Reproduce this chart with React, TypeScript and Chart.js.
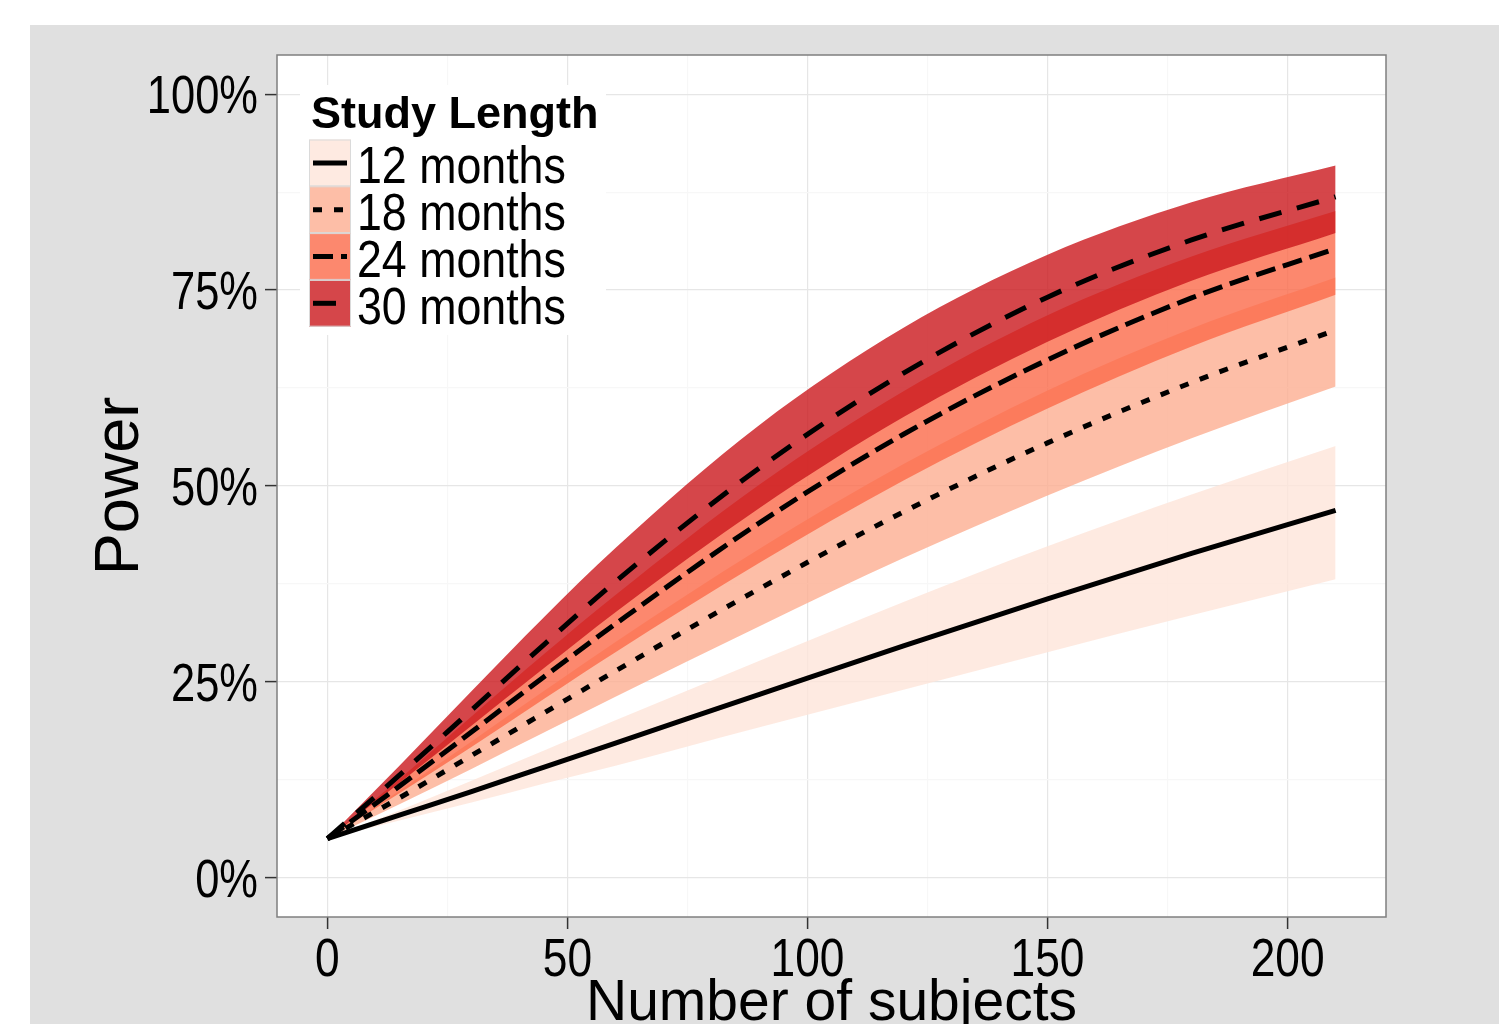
import React, { useEffect, useRef } from 'react';
import { Chart, registerables } from 'chart.js';

Chart.register(...registerables);

// ---- data (power, %) ----
const subjects = [0, 15, 30, 45, 60, 90, 120, 150, 180, 210];

const power12 = [5.0, 8.0, 11.0, 14.1, 17.2, 23.4, 29.6, 35.6, 41.4, 46.9];
const lower12 = [5.0, 7.3, 9.6, 12.0, 14.3, 19.2, 24.0, 28.8, 33.5, 38.1];
const upper12 = [5.0, 8.6, 12.4, 16.2, 20.1, 27.7, 35.2, 42.3, 48.9, 55.1];

const power18 = [5.0, 10.2, 15.6, 21.0, 26.4, 36.9, 46.7, 55.5, 63.2, 69.9];
const lower18 = [5.0, 9.4, 13.9, 18.5, 23.1, 32.1, 40.8, 48.8, 56.1, 62.7];
const upper18 = [5.0, 11.1, 17.4, 23.8, 30.1, 42.0, 52.8, 62.2, 70.1, 76.6];

const power24 = [5.0, 11.7, 18.6, 25.6, 32.4, 45.3, 56.6, 66.1, 74.0, 80.3];
const lower24 = [5.0, 10.8, 16.7, 22.8, 28.8, 40.2, 50.7, 59.9, 67.8, 74.4];
const upper24 = [5.0, 12.6, 20.6, 28.5, 36.1, 50.2, 62.1, 71.8, 79.3, 85.1];

const power30 = [5.0, 13.1, 21.4, 29.7, 37.8, 52.3, 64.4, 74.1, 81.4, 86.9];
const lower30 = [5.0, 12.1, 19.4, 26.7, 33.9, 47.2, 58.8, 68.4, 76.2, 82.3];
const upper30 = [5.0, 14.3, 23.8, 33.2, 42.1, 57.8, 70.2, 79.5, 86.2, 90.9];

const studyLabels = ['12 months', '18 months', '24 months', '30 months'];
const legendTitle = 'Study Length';

const xTickValues = [0, 25, 50, 75, 100, 125, 150, 175, 200];
const xLabelValues = [0, 50, 100, 150, 200];
const yTickValues = [0, 12.5, 25, 37.5, 50, 62.5, 75, 87.5, 100];
const yLabelValues = [0, 25, 50, 75, 100];

const xTitle = 'Number of subjects';
const yTitle = 'Power';

// ---- styles ----
const ribbonColors = [
  'rgba(254,229,217,0.8)',
  'rgba(252,174,145,0.8)',
  'rgba(251,106,74,0.8)',
  'rgba(203,24,29,0.8)',
];
const lineDashes = [[], [9, 12], [20, 8], [23, 16]];
const SANS = '"Liberation Sans", Arial, Helvetica, sans-serif';
const MAJOR = '#E6E6E6';
const MINOR = '#F7F7F7';
const CONDENSE = 0.82;

const toPts = (arr: number[]) => subjects.map((x, i) => ({ x, y: arr[i] }));

const drawCondensed = (ctx: any, text: string, x: number, y: number, align: string, factor: number) => {
  ctx.save();
  ctx.translate(x, y);
  ctx.scale(factor, 1);
  ctx.textAlign = align;
  ctx.fillText(text, 0, 0);
  ctx.restore();
};

const App = () => {
  const ref = useRef<HTMLCanvasElement>(null);

  useEffect(() => {
    const canvas = ref.current;
    if (!canvas) return;

    const lows = [lower12, lower18, lower24, lower30];
    const highs = [upper12, upper18, upper24, upper30];
    const mids = [power12, power18, power24, power30];

    const datasets: any[] = [];
    for (let i = 0; i < 4; i++) {
      datasets.push({
        label: studyLabels[i] + ' low',
        data: toPts(lows[i]),
        borderWidth: 0,
        pointRadius: 0,
        fill: false,
        backgroundColor: 'rgba(0,0,0,0)',
        borderColor: 'rgba(0,0,0,0)',
        cubicInterpolationMode: 'monotone',
        order: 20 - i,
      });
      datasets.push({
        label: studyLabels[i] + ' band',
        data: toPts(highs[i]),
        borderWidth: 0,
        pointRadius: 0,
        fill: '-1',
        backgroundColor: ribbonColors[i],
        borderColor: 'rgba(0,0,0,0)',
        cubicInterpolationMode: 'monotone',
        order: 20 - i,
      });
    }
    for (let i = 0; i < 4; i++) {
      datasets.push({
        label: studyLabels[i],
        data: toPts(mids[i]),
        borderWidth: 5,
        borderColor: '#000',
        borderDash: lineDashes[i],
        borderCapStyle: 'butt',
        pointRadius: 0,
        fill: false,
        cubicInterpolationMode: 'monotone',
        order: 1,
      });
    }

    const bgPlugin = {
      id: 'bgPlugin',
      beforeDraw(chart: any) {
        const { ctx, width, height, chartArea } = chart;
        ctx.save();
        ctx.fillStyle = '#ffffff';
        ctx.fillRect(0, 0, width, height);
        ctx.fillStyle = '#E0E0E0';
        ctx.fillRect(30, 25, width - 30, height - 25);
        ctx.fillStyle = '#ffffff';
        ctx.fillRect(chartArea.left, chartArea.top, chartArea.right - chartArea.left, chartArea.bottom - chartArea.top);
        ctx.restore();
      },
      afterDraw(chart: any) {
        const { ctx, chartArea } = chart;
        const xs = chart.scales.x;
        const ys = chart.scales.y;
        ctx.save();
        ctx.strokeStyle = '#7F7F7F';
        ctx.lineWidth = 1.5;
        ctx.strokeRect(chartArea.left, chartArea.top, chartArea.right - chartArea.left, chartArea.bottom - chartArea.top);

        // tick labels (condensed, as in the reference)
        ctx.fillStyle = '#000';
        ctx.textBaseline = 'alphabetic';
        ctx.font = `54px ${SANS}`;
        for (const v of xLabelValues) {
          drawCondensed(ctx, String(v), xs.getPixelForValue(v), 976, 'center', CONDENSE);
        }
        ctx.font = `53px ${SANS}`;
        for (const v of yLabelValues) {
          drawCondensed(ctx, `${v}%`, chartArea.left - 19, ys.getPixelForValue(v) + 19, 'right', CONDENSE);
        }

        // legend
        const bx = 300, by = 85, bw = 306, bh = 250;
        ctx.fillStyle = '#ffffff';
        ctx.fillRect(bx, by, bw, bh);
        ctx.fillStyle = '#000';
        ctx.font = `bold 45px ${SANS}`;
        ctx.textAlign = 'left';
        ctx.fillText(legendTitle, 311, 128);
        const keyX = 309, keyW = 42, keyH = 46.8, keyTop = 139.5;
        for (let i = 0; i < studyLabels.length; i++) {
          const ky = keyTop + i * keyH;
          ctx.fillStyle = '#ffffff';
          ctx.fillRect(keyX, ky, keyW, keyH);
          ctx.fillStyle = ribbonColors[i];
          ctx.fillRect(keyX, ky, keyW, keyH);
          ctx.strokeStyle = '#DADADA';
          ctx.lineWidth = 1;
          ctx.setLineDash([]);
          ctx.strokeRect(keyX + 0.5, ky + 0.5, keyW - 1, keyH - 1);
          ctx.strokeStyle = '#000';
          ctx.lineWidth = 5;
          ctx.lineCap = 'butt';
          ctx.setLineDash(lineDashes[i]);
          ctx.beginPath();
          ctx.moveTo(keyX + 4, ky + keyH / 2);
          ctx.lineTo(keyX + keyW - 4, ky + keyH / 2);
          ctx.stroke();
          ctx.setLineDash([]);
          ctx.fillStyle = '#000';
          ctx.font = `52px ${SANS}`;
          drawCondensed(ctx, studyLabels[i], 357, ky + keyH - 3, 'left', 0.86);
        }
        ctx.restore();
      },
    };

    const chart = new Chart(canvas, {
      type: 'line',
      data: { datasets },
      options: {
        animation: false,
        responsive: false,
        devicePixelRatio: 1,
        layout: { padding: { left: 0, top: 55, right: 113, bottom: 0 } },
        plugins: {
          legend: { display: false },
          tooltip: { enabled: false },
          filler: { propagate: false },
        },
        scales: {
          x: {
            type: 'linear',
            min: -10.5,
            max: 220.5,
            afterBuildTicks: (s: any) => {
              s.ticks = xTickValues.map((v) => ({ value: v }));
            },
            afterFit: (s: any) => {
              s.height = 107;
            },
            border: { display: false },
            grid: {
              color: (c: any) => (xLabelValues.includes(c.tick?.value) ? MAJOR : MINOR),
              lineWidth: 1.2,
              tickLength: 12,
              tickWidth: 1.5,
              tickColor: (c: any) => (xLabelValues.includes(c.tick?.value) ? '#333333' : 'rgba(0,0,0,0)'),
            },
            ticks: { display: false, autoSkip: false, maxRotation: 0 },
            title: {
              display: true,
              text: xTitle,
              color: '#000',
              font: { family: SANS, size: 57, lineHeight: 1 },
              padding: { top: 0, bottom: -8.5 },
            },
          },
          y: {
            type: 'linear',
            min: -5,
            max: 105,
            afterBuildTicks: (s: any) => {
              s.ticks = yTickValues.map((v) => ({ value: v }));
            },
            afterFit: (s: any) => {
              s.width = 277;
            },
            border: { display: false },
            grid: {
              color: (c: any) => (yLabelValues.includes(c.tick?.value) ? MAJOR : MINOR),
              lineWidth: 1.2,
              tickLength: 12,
              tickWidth: 1.5,
              tickColor: (c: any) => (yLabelValues.includes(c.tick?.value) ? '#333333' : 'rgba(0,0,0,0)'),
            },
            ticks: { display: false, autoSkip: false },
            title: {
              display: true,
              text: yTitle,
              color: '#000',
              font: { family: SANS, size: 63, lineHeight: 1 },
              padding: { top: 89.5, bottom: 0 },
            },
          },
        },
      },
      plugins: [bgPlugin],
    } as any);

    return () => chart.destroy();
  }, []);

  return (
    <div style={{ position: 'fixed', left: 0, top: 0, width: 1499, height: 1024, overflow: 'hidden', background: '#fff' }}>
      <canvas ref={ref} width={1499} height={1024} style={{ display: 'block', width: 1499, height: 1024 }} />
    </div>
  );
};

export default App;
